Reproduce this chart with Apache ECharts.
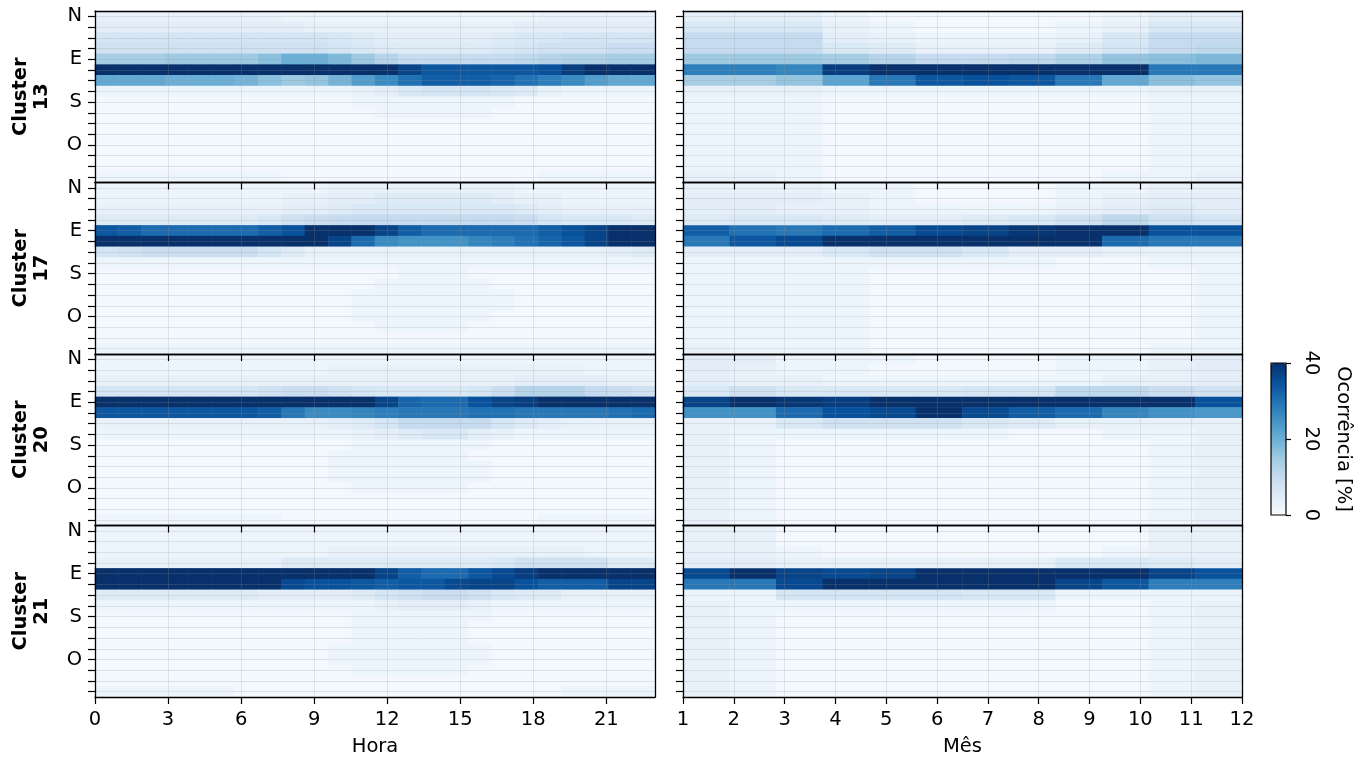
<!DOCTYPE html>
<html><head><meta charset="utf-8">
<script src="https://cdn.jsdelivr.net/npm/echarts@6/dist/echarts.min.js"></script>
<style>html,body{margin:0;padding:0;background:#fff}#c{width:1372px;height:760px}</style>
</head><body><div id="c"></div>
<script>
// ---------- categories / ticks ----------
const clusters = ['13', '17', '20', '21'];
const horas = ['0','1','2','3','4','5','6','7','8','9','10','11','12','13','14','15','16','17','18','19','20','21','22','23'];
const meses = ['1','2','3','4','5','6','7','8','9','10','11','12'];
const direcoes = ['N','NNE','NE','ENE','E','ESE','SE','SSE','S','SSW','SW','WSW','O','WNW','NW','NNW'];
const horaTicks = [0, 3, 6, 9, 12, 15, 18, 21];
const mesTicks = [1, 2, 3, 4, 5, 6, 7, 8, 9, 10, 11, 12];
const colorTicks = [0, 20, 40];

// ---------- values: occurrence [%], rows = direction bins (N..NNW), cols = hour ----------
const hora13 = [
 [3,3,3,3,3,3,3,3,2,2,2,2,2,2,2,2,2,2,2,3,3,3,3,3],
 [4,4,4,4,4,4,4,4,4,3,3,3,3,3,3,3,3,3,4,4,4,4,4,4],
 [7,7,7,7,7,7,7,7,7,7,6,5,4,4,4,4,4,5,6,6,7,7,7,7],
 [8,8,8,8,8,8,8,8,8,8,7,6,5,5,5,5,5,6,7,8,8,8,9,9],
 [14,14,14,15,15,15,15,17,20,20,18,15,12,10,10,10,10,10,11,12,13,13,14,14],
 [42,42,42,42,42,42,42,42,42,42,42,42,42,37,34,34,34,34,34,35,38,41,42,42],
 [21,21,21,20,20,20,19,17,15,16,19,23,26,30,33,33,33,32,30,28,26,23,21,21],
 [2,2,2,2,2,2,2,2,2,2,2,3,4,6,7,7,7,6,5,3,2,2,2,2],
 [1,1,1,1,1,1,1,1,1,1,1,2,2,2,2,2,2,2,1,1,1,1,1,1],
 [1,1,1,1,1,1,1,1,1,1,1,1,2,2,2,2,2,1,1,1,1,1,1,1],
 [1,1,1,1,1,1,1,1,1,1,1,1,1,1,1,1,1,1,1,1,1,1,1,1],
 [1,1,1,1,1,1,1,1,1,1,1,1,1,1,1,1,1,1,1,1,1,1,1,1],
 [1,1,1,1,1,1,1,1,1,1,1,1,1,1,1,1,1,1,1,1,1,1,1,1],
 [1,1,1,1,1,1,1,1,1,1,1,1,1,1,1,1,1,1,1,1,1,1,1,1],
 [1,1,1,1,1,1,1,1,1,1,1,1,1,1,1,1,1,1,1,1,1,1,1,1],
 [2,2,2,2,2,2,2,2,1,1,1,1,1,1,1,1,1,1,1,2,2,2,2,2]
];
const hora17 = [
 [2,2,2,2,2,2,2,2,2,2,3,3,3,3,3,3,3,3,2,2,2,2,2,2],
 [2,2,2,2,2,2,2,2,3,3,4,4,5,5,5,5,5,4,3,3,2,2,2,2],
 [3,3,3,3,3,3,3,3,4,4,5,6,6,6,6,6,6,6,5,4,3,3,3,3],
 [5,5,5,5,5,5,5,6,8,9,10,10,10,10,10,10,10,10,9,7,6,6,6,5],
 [34,33,31,31,31,31,31,33,35,40,42,42,37,33,31,31,31,31,31,33,35,37,41,42],
 [42,42,42,42,42,42,42,42,42,41,37,31,26,25,25,25,27,28,30,32,34,37,40,42],
 [7,8,9,9,9,9,9,7,5,3,3,3,3,3,3,3,3,3,3,3,3,3,4,5],
 [2,2,2,2,2,2,2,2,2,2,2,2,2,2,2,2,2,2,2,2,2,2,2,2],
 [1,1,1,1,1,1,1,1,1,1,1,1,1,2,2,2,1,1,1,1,1,1,1,1],
 [1,1,1,1,1,1,1,1,1,1,1,1,2,2,2,2,2,1,1,1,1,1,1,1],
 [1,1,1,1,1,1,1,1,1,1,1,2,2,2,2,2,2,2,1,1,1,1,1,1],
 [1,1,1,1,1,1,1,1,1,1,1,2,2,2,2,2,2,2,1,1,1,1,1,1],
 [1,1,1,1,1,1,1,1,1,1,1,2,2,2,2,2,2,1,1,1,1,1,1,1],
 [1,1,1,1,1,1,1,1,1,1,1,1,2,2,2,2,1,1,1,1,1,1,1,1],
 [1,1,1,1,1,1,1,1,1,1,1,1,1,1,1,1,1,1,1,1,1,1,1,1],
 [2,2,2,2,2,2,2,2,2,2,2,2,2,2,2,2,2,2,2,2,2,2,2,2]
];
const hora20 = [
 [2,2,2,2,2,2,2,2,2,2,2,2,2,2,2,2,2,2,2,2,2,2,2,2],
 [2,2,2,2,2,2,2,2,2,2,3,3,3,3,3,3,3,3,3,3,3,2,2,2],
 [3,3,3,3,3,3,3,3,3,3,3,3,3,3,3,3,3,3,4,4,4,4,3,3],
 [7,7,7,7,7,7,7,8,9,9,8,7,6,6,6,6,7,9,12,12,12,10,9,8],
 [42,42,42,42,42,42,42,42,42,42,42,42,37,32,31,31,35,37,38,41,42,42,42,42],
 [34,34,34,34,34,34,34,33,29,26,26,27,28,29,29,29,30,30,29,29,29,29,30,31],
 [3,3,3,3,3,3,3,3,3,3,4,5,7,10,10,10,10,7,5,4,3,3,3,3],
 [2,2,2,2,2,2,2,2,2,2,2,3,4,5,6,6,4,3,2,2,2,2,2,2],
 [1,1,1,1,1,1,1,1,1,1,1,2,2,2,2,2,2,1,1,1,1,1,1,1],
 [1,1,1,1,1,1,1,1,1,1,2,2,2,2,2,2,1,1,1,1,1,1,1,1],
 [1,1,1,1,1,1,1,1,1,1,2,2,2,2,2,2,2,1,1,1,1,1,1,1],
 [1,1,1,1,1,1,1,1,1,1,2,2,2,2,2,2,2,1,1,1,1,1,1,1],
 [1,1,1,1,1,1,1,1,1,1,1,2,2,2,2,2,1,1,1,1,1,1,1,1],
 [1,1,1,1,1,1,1,1,1,1,1,1,1,1,1,1,1,1,1,1,1,1,1,1],
 [1,1,1,1,1,1,1,1,1,1,1,1,1,1,1,1,1,1,1,1,1,1,1,1],
 [2,2,2,2,2,2,2,2,1,1,1,1,1,1,1,1,1,1,1,2,2,2,2,2]
];
const hora21 = [
 [2,2,2,2,2,2,2,2,2,2,2,2,2,2,2,2,2,2,2,2,2,2,2,2],
 [2,2,2,2,2,2,2,2,2,2,2,2,2,2,2,2,2,2,2,2,2,2,2,2],
 [2,2,2,2,2,2,2,2,2,2,3,3,3,3,3,3,3,3,3,3,3,2,2,2],
 [3,3,3,3,3,3,3,3,5,5,5,5,5,5,5,5,5,6,8,8,8,8,5,5],
 [42,42,42,42,42,42,42,42,42,42,42,42,37,33,31,31,34,36,38,41,42,42,42,42],
 [41,41,41,41,41,41,41,41,36,35,35,34,33,34,34,36,37,37,35,33,33,33,37,37],
 [5,5,5,5,5,5,5,4,4,4,4,5,7,8,9,9,8,6,5,5,3,3,3,3],
 [2,2,2,2,2,2,2,2,2,2,2,2,3,4,4,4,3,2,2,2,2,2,2,2],
 [1,1,1,1,1,1,1,1,1,1,1,2,2,2,2,2,2,1,1,1,1,1,1,1],
 [1,1,1,1,1,1,1,1,1,1,1,2,2,2,2,2,1,1,1,1,1,1,1,1],
 [1,1,1,1,1,1,1,1,1,1,1,2,2,2,2,2,1,1,1,1,1,1,1,1],
 [1,1,1,1,1,1,1,1,1,1,2,2,2,2,2,2,2,1,1,1,1,1,1,1],
 [1,1,1,1,1,1,1,1,1,1,2,2,2,2,2,2,2,1,1,1,1,1,1,1],
 [1,1,1,1,1,1,1,1,1,1,1,2,2,2,2,2,1,1,1,1,1,1,1,1],
 [1,1,1,1,1,1,1,1,1,1,1,1,1,1,1,1,1,1,1,1,1,1,1,1],
 [2,2,2,2,2,2,1,1,1,1,1,1,1,1,1,1,1,1,1,1,2,2,2,2]
];

// ---------- values: rows = direction bins, cols = month ----------
const mes13 = [
 [4,4,4,2,1,1,1,1,1,2,4,4],
 [6,6,6,3,2,1,1,1,2,3,6,6],
 [10,10,10,4,3,2,2,2,3,6,10,10],
 [10,10,10,6,5,3,3,3,5,7,10,11],
 [15,15,15,14,12,10,10,11,13,16,17,18],
 [28,28,27,38,41,42,42,42,41,41,29,29],
 [14,14,16,22,29,34,35,34,29,21,17,16],
 [3,3,3,2,2,2,2,2,2,2,3,3],
 [2,2,2,1,1,1,1,1,1,1,2,2],
 [2,2,2,1,1,1,1,1,1,1,2,2],
 [2,2,2,1,1,1,1,1,1,1,2,2],
 [2,2,2,1,1,1,1,1,1,1,2,2],
 [2,2,2,1,1,1,1,1,1,1,2,2],
 [2,2,2,1,1,1,1,1,1,1,2,2],
 [2,2,2,1,1,1,1,1,1,1,2,2],
 [3,3,2,1,1,1,1,1,1,2,2,3]
];
const mes17 = [
 [3,3,3,2,2,1,1,1,2,2,3,3],
 [4,4,4,3,2,1,1,1,2,3,4,4],
 [4,4,3,3,2,2,2,2,3,4,5,4],
 [5,6,6,5,4,4,5,6,8,11,8,7],
 [33,30,29,31,33,36,37,39,41,41,35,35],
 [29,34,36,42,42,42,42,42,41,31,29,29],
 [4,4,4,6,8,8,6,4,4,3,3,3],
 [2,2,2,2,2,2,2,2,1,1,2,2],
 [2,2,2,2,1,1,1,1,1,1,1,2],
 [2,2,2,2,1,1,1,1,1,1,1,2],
 [2,2,2,2,1,1,1,1,1,1,1,2],
 [2,2,2,2,1,1,1,1,1,1,1,2],
 [2,2,2,2,1,1,1,1,1,1,1,2],
 [2,2,2,2,1,1,1,1,1,1,1,2],
 [2,2,2,2,1,1,1,1,1,1,1,2],
 [3,2,2,2,1,1,1,1,1,1,2,2]
];
const mes20 = [
 [4,4,2,2,2,1,1,1,2,2,3,4],
 [4,3,2,2,1,1,1,1,2,2,3,4],
 [4,3,3,2,2,2,2,2,2,3,3,4],
 [6,8,6,6,6,6,7,7,11,11,9,8],
 [37,41,39,38,40,42,42,42,42,42,41,35],
 [25,25,31,35,36,41,36,33,31,27,25,24],
 [3,3,6,8,8,8,6,5,3,3,3,3],
 [3,2,2,2,2,2,2,1,1,2,2,3],
 [3,2,1,1,1,1,1,1,1,1,2,3],
 [3,2,1,1,1,1,1,1,1,1,2,3],
 [3,2,1,1,1,1,1,1,1,1,2,3],
 [3,2,1,1,1,1,1,1,1,1,2,3],
 [3,2,1,1,1,1,1,1,1,1,2,3],
 [3,2,1,1,1,1,1,1,1,1,2,3],
 [3,2,1,1,1,1,1,1,1,1,2,3],
 [3,2,1,1,1,1,1,1,1,1,2,3]
];
const mes21 = [
 [3,3,1,1,1,1,1,1,1,1,3,3],
 [3,3,1,1,1,1,1,1,1,1,3,3],
 [3,3,2,1,1,1,1,1,1,2,3,3],
 [4,4,3,3,3,3,3,3,6,6,5,4],
 [36,40,37,36,37,42,42,42,42,42,37,35],
 [29,29,36,41,42,42,42,42,37,34,28,28],
 [2,2,7,7,7,7,6,6,2,2,2,2],
 [3,2,2,2,2,2,2,2,1,1,2,3],
 [3,2,1,1,1,1,1,1,1,1,2,3],
 [3,2,1,1,1,1,1,1,1,1,2,3],
 [3,2,1,1,1,1,1,1,1,1,2,3],
 [3,2,1,1,1,1,1,1,1,1,2,3],
 [3,2,1,1,1,1,1,1,1,1,2,3],
 [3,2,1,1,1,1,1,1,1,1,2,3],
 [3,2,1,1,1,1,1,1,1,1,2,3],
 [3,2,1,1,1,1,1,1,1,1,2,3]
];

// ---------- build ----------
const blues = ['#f7fbff','#deebf7','#c6dbef','#9ecae1','#6baed6','#4292c6','#2171b5','#08519c','#08306b'];
const FONT = 'DejaVu Sans';
const FS = 19.5;
const BLACK = '#000';
const GRIDC = 'rgba(150,150,150,0.22)';
const horaPanels = [hora13, hora17, hora20, hora21];
const mesPanels = [mes13, mes17, mes20, mes21];

const columns = [
  {left: 95, width: 560, cats: horas, ticks: horaTicks, min: 0, max: 23, interval: 3, title: 'Hora', panels: horaPanels},
  {left: 683, width: 559, cats: meses, ticks: mesTicks, min: 1, max: 12, interval: 1, title: 'Mês', panels: mesPanels}
];
const rowTop = 11, rowH = 171.5;

const grids = [], xAxes = [], yAxes = [], series = [];
const frameLine = {show: true, onZero: false, lineStyle: {color: BLACK, width: 1.3}};
const tickStyle = {color: BLACK, width: 1.2};

for (let r = 0; r < 4; r++) {
  for (let c = 0; c < 2; c++) {
    const col = columns[c];
    const g = grids.length;
    grids.push({left: col.left, top: rowTop + r * rowH, width: col.width, height: rowH});
    const xCat = xAxes.length;
    xAxes.push({
      type: 'category', gridIndex: g, data: col.cats, position: 'top', z: 10,
      axisLine: frameLine, axisTick: {show: false}, axisLabel: {show: false}, splitLine: {show: false}
    });
    xAxes.push({
      type: 'value', gridIndex: g, position: 'bottom', min: col.min, max: col.max, interval: col.interval, z: 10,
      axisLine: frameLine,
      axisTick: {show: true, length: 7, customValues: col.ticks, lineStyle: tickStyle},
      axisLabel: {show: r === 3, customValues: col.ticks, fontSize: FS, color: BLACK, fontFamily: FONT, margin: 13},
      splitLine: {show: true, lineStyle: {color: GRIDC, width: 1}},
      name: r === 3 ? col.title : '', nameLocation: 'middle', nameGap: 40,
      nameTextStyle: {fontSize: FS, color: BLACK, fontFamily: FONT}
    });
    const yCat = yAxes.length;
    yAxes.push({
      type: 'category', gridIndex: g, data: direcoes, inverse: true, position: 'left', z: 10,
      axisLine: frameLine,
      axisTick: {show: true, alignWithLabel: true, interval: 0, length: 7, lineStyle: tickStyle},
      axisLabel: {show: c === 0, interval: 3, fontSize: FS, color: BLACK, fontFamily: FONT, margin: 13},
      splitLine: {show: true, interval: 0, alignWithLabel: true, lineStyle: {color: GRIDC, width: 1}},
      name: c === 0 ? 'Cluster\n' + clusters[r] : '', nameLocation: 'middle', nameRotate: 90, nameGap: 43,
      nameTextStyle: {fontSize: FS, fontWeight: 'bold', color: BLACK, fontFamily: FONT, lineHeight: 21}
    });
    yAxes.push({
      type: 'value', gridIndex: g, position: 'right', min: 0, max: 1, z: 10,
      axisLine: frameLine, axisTick: {show: false}, axisLabel: {show: false}, splitLine: {show: false}
    });
    const rows = col.panels[r];
    const cells = [];
    rows.forEach((row, i) => row.forEach((v, j) => cells.push([j, i, v])));
    series.push({
      type: 'heatmap', xAxisIndex: xCat, yAxisIndex: yCat, data: cells,
      progressive: 0, emphasis: {disabled: true}, itemStyle: {borderWidth: 0}
    });
  }
}

// colourbar axis
const cbTop = 363, cbH = 152, cbLeft = 1271, cbW = 15;
grids.push({left: cbLeft, top: cbTop, width: cbW, height: cbH, show: true, borderColor: BLACK, borderWidth: 1.2, backgroundColor: 'transparent', z: 10});
xAxes.push({type: 'value', gridIndex: 8, show: false, min: 0, max: 1});
yAxes.push({
  type: 'value', gridIndex: 8, position: 'right', min: colorTicks[0], max: colorTicks[2], interval: 20, z: 10,
  axisLine: {show: false, onZero: false},
  axisTick: {show: true, length: 5, lineStyle: tickStyle},
  axisLabel: {rotate: -90, fontSize: FS, color: BLACK, fontFamily: FONT, margin: 15},
  splitLine: {show: false},
  name: 'Ocorrência [%]', nameLocation: 'middle', nameRotate: -90, nameGap: 47,
  nameTextStyle: {fontSize: FS, color: BLACK, fontFamily: FONT}
});

const chart = echarts.init(document.getElementById('c'));
chart.setOption({
  animation: false,
  backgroundColor: '#fff',
  textStyle: {fontFamily: FONT},
  grid: grids,
  xAxis: xAxes,
  yAxis: yAxes,
  visualMap: {
    type: 'continuous', min: 0, max: 40, seriesIndex: [0,1,2,3,4,5,6,7],
    calculable: false, orient: 'vertical', left: cbLeft, top: cbTop,
    itemWidth: cbW, itemHeight: cbH, padding: 0, text: null, hoverLink: false,
    inRange: {color: blues}, z: 2
  },
  series: series
});
</script></body></html>
